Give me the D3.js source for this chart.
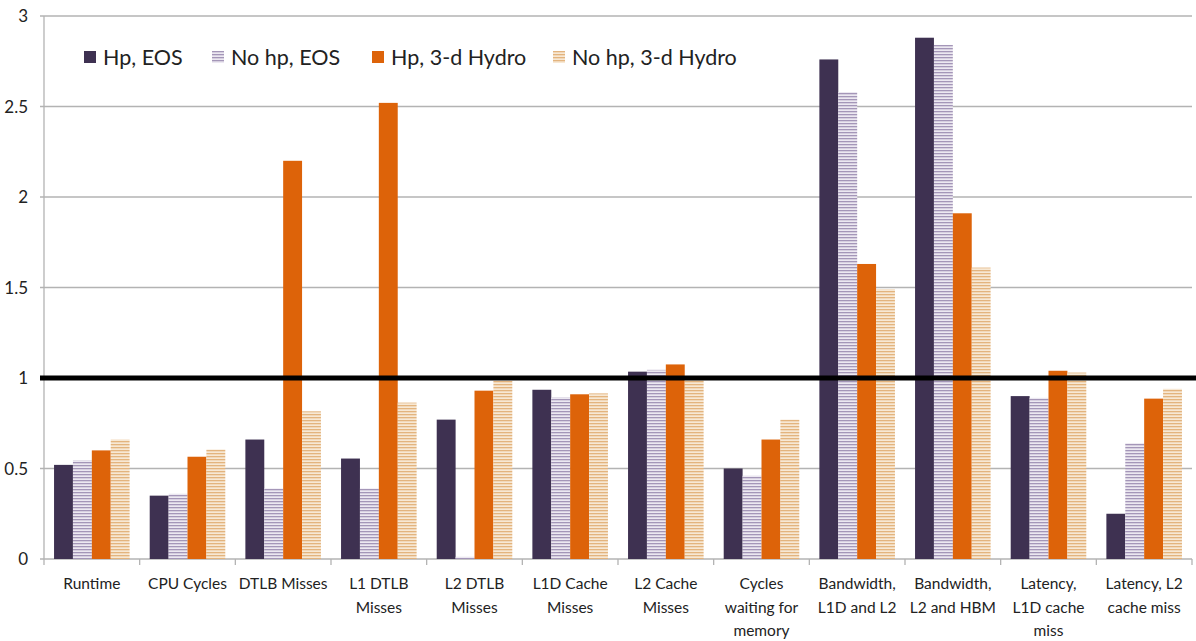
<!DOCTYPE html>
<html>
<head>
<meta charset="utf-8">
<script src="https://cdn.jsdelivr.net/npm/d3@7"></script>
<style>
  body { margin: 0; background: #fff; }
  svg text { font-family: Lato, "Open Sans", sans-serif; fill: #222; }
</style>
</head>
<body>
<div id="chart"></div>
<script>
// categories (x labels, may wrap)
var categories = [
    ["Runtime"], ["CPU Cycles"], ["DTLB Misses"], ["L1 DTLB", "Misses"],
    ["L2 DTLB", "Misses"], ["L1D Cache", "Misses"], ["L2 Cache", "Misses"],
    ["Cycles", "waiting for", "memory"], ["Bandwidth,", "L1D and L2"],
    ["Bandwidth,", "L2 and HBM"], ["Latency,", "L1D cache", "miss"],
    ["Latency, L2", "cache miss"]
];
var seriesNames = ["Hp, EOS", "No hp, EOS", "Hp, 3-d Hydro", "No hp, 3-d Hydro"];
var hpEos       = [0.52, 0.35, 0.66, 0.555, 0.77, 0.935, 1.035, 0.50, 2.76, 2.88, 0.90, 0.25];
var noHpEos     = [0.545, 0.36, 0.39, 0.39, 0.012, 0.893, 1.045, 0.46, 2.58, 2.84, 0.89, 0.64];
var hpHydro     = [0.60, 0.565, 2.20, 2.52, 0.93, 0.91, 1.075, 0.66, 1.63, 1.91, 1.04, 0.886];
var noHpHydro   = [0.66, 0.605, 0.816, 0.864, 0.985, 0.915, 0.99, 0.77, 1.49, 1.61, 1.03, 0.94];
var yTicks = [0, 0.5, 1, 1.5, 2, 2.5, 3];
var refValue = 1;

var series = [hpEos, noHpEos, hpHydro, noHpHydro];

var width = 1196, height = 641;
var margin = {left: 44, right: 4, top: 16, bottom: 82};

var svg = d3.select("#chart").append("svg")
    .attr("width", width)
    .attr("height", height);

// striped patterns for the "no hp" series
var defs = svg.append("defs");
function stripes(id, bg, line) {
    var p = defs.append("pattern")
        .attr("id", id)
        .attr("patternUnits", "userSpaceOnUse")
        .attr("width", 6).attr("height", 3);
    p.append("rect").attr("width", 6).attr("height", 3).attr("fill", bg);
    p.append("rect").attr("y", 0).attr("width", 6).attr("height", 1.3).attr("fill", line);
}
stripes("lav", "#ece8f1", "#a496b8");
stripes("tan", "#f7e8d4", "#e3b47e");

var fills = ["#3e3151", "url(#lav)", "#dd6309", "url(#tan)"];

var x = d3.scaleBand()
    .domain(d3.range(categories.length))
    .range([margin.left, width - margin.right])
    .paddingInner(0.21).paddingOuter(0.105);

var x1 = d3.scaleBand()
    .domain(d3.range(series.length))
    .range([0, x.bandwidth()]);

var y = d3.scaleLinear()
    .domain([0, 3])
    .range([height - margin.bottom, margin.top]);

// gridlines
svg.append("g").selectAll("line")
    .data(yTicks)
    .enter().append("line")
    .attr("x1", margin.left - 4)
    .attr("x2", width - margin.right)
    .attr("y1", function(d) { return y(d); })
    .attr("y2", function(d) { return y(d); })
    .style("stroke", "#b3b3b3")
    .style("stroke-width", 1.3);

// y labels
svg.append("g").selectAll("text")
    .data(yTicks)
    .enter().append("text")
    .attr("x", 28)
    .attr("y", function(d) { return y(d) + 6; })
    .attr("text-anchor", "end")
    .style("font-size", "17px")
    .text(function(d) { return d; });

// bars
series.forEach(function(vals, s) {
    svg.append("g").selectAll("rect")
        .data(vals)
        .enter().append("rect")
        .attr("x", function(d, i) { return x(i) + x1(s); })
        .attr("width", x1.bandwidth())
        .attr("y", function(d) { return y(d); })
        .attr("height", function(d) { return y(0) - y(d); })
        .attr("fill", fills[s]);
});

// axes lines
svg.append("line")
    .attr("x1", margin.left).attr("x2", margin.left)
    .attr("y1", y(3)).attr("y2", y(0))
    .style("stroke", "#b3b3b3").style("stroke-width", 1.3);

var step = x.step();
svg.append("g").selectAll("line")
    .data(d3.range(categories.length + 1))
    .enter().append("line")
    .attr("x1", function(d) { return margin.left + d * step; })
    .attr("x2", function(d) { return margin.left + d * step; })
    .attr("y1", y(0)).attr("y2", y(0) + 6)
    .style("stroke", "#b3b3b3").style("stroke-width", 1.3);

// reference line at 1
svg.append("line")
    .attr("x1", margin.left - 4)
    .attr("x2", width)
    .attr("y1", y(refValue)).attr("y2", y(refValue))
    .style("stroke", "#000")
    .style("stroke-width", 5);

// category labels
var lbl = svg.append("g").selectAll("text")
    .data(categories)
    .enter().append("text")
    .attr("text-anchor", "middle")
    .style("font-size", "15.5px");
lbl.each(function(lines, i) {
    d3.select(this).selectAll("tspan")
        .data(lines)
        .enter().append("tspan")
        .attr("x", x(i) + x.bandwidth() / 2)
        .attr("y", function(d, j) { return 589 + j * 23.5; })
        .text(function(d) { return d; });
});

// legend
var legendX = [84, 212, 372, 553];
var leg = svg.append("g").selectAll("g")
    .data(seriesNames)
    .enter().append("g")
    .attr("transform", function(d, i) { return "translate(" + legendX[i] + ",51)"; });
leg.append("rect")
    .attr("width", 12).attr("height", 12)
    .attr("fill", function(d, i) { return fills[i]; });
leg.append("text")
    .attr("x", 19).attr("y", 14)
    .style("font-size", "21.5px")
    .text(function(d) { return d; });
</script>
</body>
</html>
